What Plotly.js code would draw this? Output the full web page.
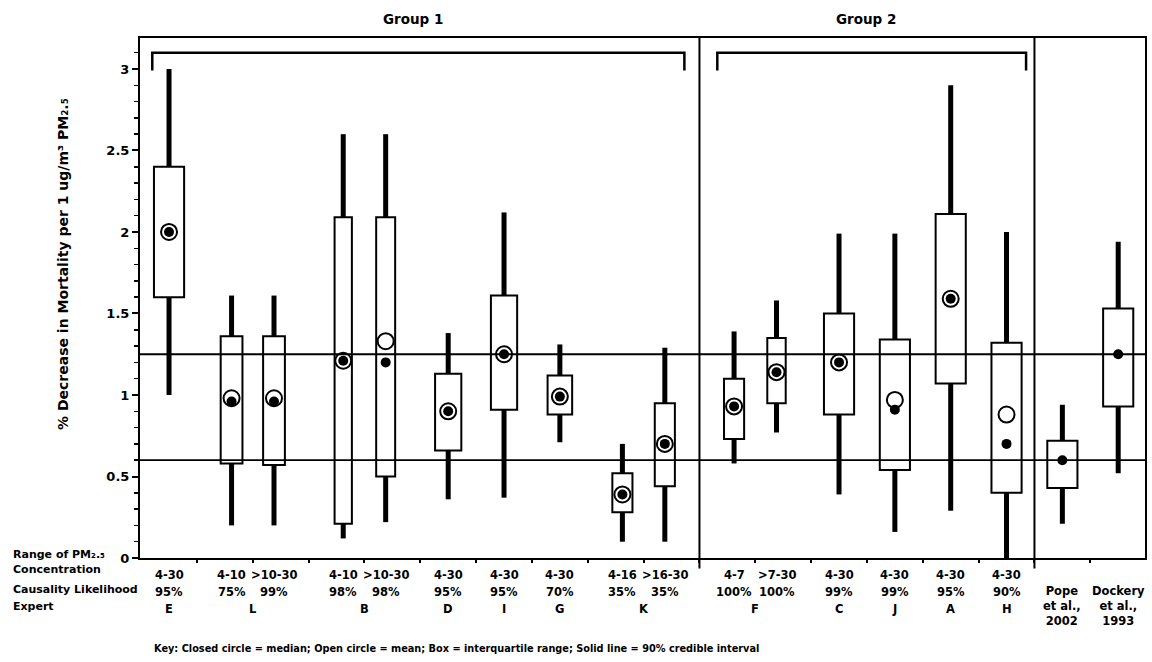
<!DOCTYPE html>
<html>
<head>
<meta charset="utf-8">
<script src="https://cdn.plot.ly/plotly-3.0.1.min.js"></script>
<style>
  html, body { margin: 0; padding: 0; background: #fff; }
  #chart { width: 1152px; height: 662px; }
</style>
</head>
<body>
<div id="chart"></div>
<script>
// Expert judgments of the PM2.5 mortality effect, followed by two cohort studies
const experts = ['E', 'L', 'L', 'B', 'B', 'D', 'I', 'G', 'K', 'K', 'F', 'F', 'C', 'J', 'A', 'H',
                 'Pope<br>et al.,<br>2002', 'Dockery<br>et al.,<br>1993'];
const concentration = ['4-30', '4-10', '>10-30', '4-10', '>10-30', '4-30', '4-30', '4-30', '4-16', '>16-30',
                       '4-7', '>7-30', '4-30', '4-30', '4-30', '4-30', '', ''];
const likelihood = ['95%', '75%', '99%', '98%', '98%', '95%', '95%', '70%', '35%', '35%',
                    '100%', '100%', '99%', '99%', '95%', '90%', '', ''];
const groupOf = [1, 1, 1, 1, 1, 1, 1, 1, 1, 1, 2, 2, 2, 2, 2, 2, 0, 0];
const groupNames = { 1: 'Group 1', 2: 'Group 2' };

// % decrease in mortality per 1 ug/m3 PM2.5
const lower90 = [1.00, 0.20, 0.20, 0.12, 0.22, 0.36, 0.37, 0.71, 0.10, 0.10, 0.58, 0.77, 0.39, 0.16, 0.29, 0.00, 0.21, 0.52];
const q1      = [1.60, 0.58, 0.57, 0.21, 0.50, 0.66, 0.91, 0.88, 0.28, 0.44, 0.73, 0.95, 0.88, 0.54, 1.07, 0.40, 0.43, 0.93];
const median  = [2.00, 0.96, 0.96, 1.21, 1.20, 0.90, 1.25, 0.99, 0.39, 0.70, 0.93, 1.14, 1.20, 0.91, 1.59, 0.70, 0.60, 1.25];
const mean    = [2.00, 0.98, 0.98, 1.21, 1.33, 0.90, 1.25, 0.99, 0.39, 0.70, 0.93, 1.14, 1.20, 0.97, 1.59, 0.88, null, null];
const q3      = [2.40, 1.36, 1.36, 2.09, 2.09, 1.13, 1.61, 1.12, 0.52, 0.95, 1.10, 1.35, 1.50, 1.34, 2.11, 1.32, 0.72, 1.53];
const upper90 = [3.00, 1.61, 1.61, 2.60, 2.60, 1.38, 2.12, 1.31, 0.70, 1.29, 1.39, 1.58, 1.99, 1.99, 2.90, 2.00, 0.94, 1.94];

// styling
const FONT = 'DejaVu Sans';
const INK = '#000';
const boxWidth = [0.54, 0.39, 0.39, 0.31, 0.34, 0.47, 0.47, 0.44, 0.36, 0.36, 0.36, 0.33, 0.54, 0.54, 0.54, 0.54, 0.54, 0.54];
const pairShift = 0.12;   // paired ranges of one expert sit a little closer together

const n = experts.length;
const pos = experts.map((e, i) => {
  const prevSame = i > 0 && experts[i - 1] === e;
  const nextSame = i < n - 1 && experts[i + 1] === e;
  return i - (prevSame ? pairShift : 0) + (nextSame ? pairShift : 0);
});

// whiskers: 90% credible interval, drawn outside the box
const wx = [], wy = [];
for (let i = 0; i < n; i++) {
  wx.push(pos[i], pos[i], null, pos[i], pos[i], null);
  wy.push(lower90[i], q1[i], null, q3[i], upper90[i], null);
}

const traces = [
  {
    type: 'bar', x: pos, base: q1, y: q3.map((v, i) => v - q1[i]), width: boxWidth,
    marker: { color: 'rgba(0,0,0,0)', line: { color: INK, width: 2 } },
    hoverinfo: 'skip'
  },
  {
    type: 'scatter', mode: 'lines', x: wx, y: wy, connectgaps: false,
    line: { color: INK, width: 5 }, hoverinfo: 'skip'
  },
  {
    type: 'scatter', mode: 'markers', x: pos, y: mean,
    marker: { symbol: 'circle-open', size: 16, color: INK, line: { width: 2, color: INK } },
    hoverinfo: 'skip'
  },
  {
    type: 'scatter', mode: 'markers', x: pos, y: median,
    marker: { symbol: 'circle', size: 10, color: INK },
    hoverinfo: 'skip'
  }
];

// geometry helpers in paper space
const M = { l: 140, r: 7, t: 38, b: 104 };
const W = 1152, H = 662;
const plotW = W - M.l - M.r, plotH = H - M.t - M.b;
const py = px => (H - M.b - px) / plotH;       // pixel row -> paper y
const pxx = px => (px - M.l) / plotW;         // pixel column -> paper x

const shapes = [];
const annotations = [];

// reference levels at the two cohort-study medians
[median[n - 2], median[n - 1]].forEach(v => shapes.push({
  type: 'line', xref: 'paper', yref: 'y', x0: 0, x1: 1, y0: v, y1: v,
  line: { color: INK, width: 1.8 }, layer: 'below'
}));

// separators between groups, and group brackets
for (let i = 1; i < n; i++) {
  if (groupOf[i] !== groupOf[i - 1]) {
    shapes.push({
      type: 'line', xref: 'x', yref: 'paper', x0: i - 0.5, x1: i - 0.5, y0: -0.02, y1: 1,
      line: { color: INK, width: 2 }
    });
  }
}
Object.keys(groupNames).forEach(g => {
  const idx = groupOf.map((v, i) => v === +g ? i : -1).filter(i => i >= 0);
  const a = pos[idx[0]] - 0.3, b = pos[idx[idx.length - 1]] + 0.35;
  shapes.push({
    type: 'path', xref: 'x', yref: 'y',
    path: `M ${a} 2.99 L ${a} 3.10 L ${b} 3.10 L ${b} 2.99`,
    line: { color: INK, width: 2.5 }
  });
  annotations.push({
    xref: 'x', yref: 'paper', x: (a + b) / 2 - 0.1, y: py(19), yanchor: 'middle', text: groupNames[g],
    showarrow: false, font: { family: FONT, size: 13.5, weight: 'bold', color: INK }
  });
});

// row headings under the axis
const rowFont = { family: FONT, size: 11, weight: 'bold', color: INK };
[['Range of PM₂.₅', 554], ['Concentration', 569], ['Causality Likelihood', 589], ['Expert', 606]]
  .forEach(([t, y]) => annotations.push({
    xref: 'paper', yref: 'paper', x: pxx(11), y: py(y), xanchor: 'left', yanchor: 'middle',
    text: t, showarrow: false, font: rowFont
  }));

// per-box labels
const colFont = { family: FONT, size: 11.5, weight: 'bold', color: INK };
for (let i = 0; i < n; i++) {
  if (concentration[i]) {
    annotations.push({ xref: 'x', yref: 'paper', x: pos[i], y: py(575), text: concentration[i],
      showarrow: false, font: colFont, yanchor: 'middle' });
    annotations.push({ xref: 'x', yref: 'paper', x: pos[i], y: py(592), text: likelihood[i],
      showarrow: false, font: colFont, yanchor: 'middle' });
  }
}
// expert names centred under their boxes
for (let i = 0; i < n; ) {
  let j = i;
  while (j + 1 < n && experts[j + 1] === experts[i]) j++;
  const xc = (pos[i] + pos[j]) / 2;
  if (concentration[i]) {
    annotations.push({ xref: 'x', yref: 'paper', x: xc, y: py(609), text: experts[i],
      showarrow: false, font: colFont, yanchor: 'middle' });
  } else {
    annotations.push({ xref: 'x', yref: 'paper', x: xc, y: py(582), text: experts[i],
      showarrow: false, font: colFont, yanchor: 'top' });
  }
  i = j + 1;
}

// vertical title
annotations.push({
  xref: 'paper', yref: 'paper', x: pxx(53), y: py(264), textangle: -90,
  text: '% Decrease in Mortality per 1 ug/m³ PM₂.₅',
  showarrow: false, font: { family: FONT, size: 14, weight: 'bold', color: INK }
});

// key
annotations.push({
  xref: 'paper', yref: 'paper', x: pxx(152), y: py(648), xanchor: 'left', yanchor: 'middle',
  text: 'Key: Closed circle = median; Open circle = mean; Box = interquartile range; Solid line = 90% credible interval',
  showarrow: false, font: { family: FONT, size: 9.75, weight: 'bold', color: INK }
});

const boundaries = [];
for (let i = 0; i < n - 1; i++) boundaries.push(i + 0.5);

const yRange = [0, 3.19];
const layout = {
  width: W, height: H, margin: M,
  paper_bgcolor: '#fff', plot_bgcolor: '#fff',
  showlegend: false, bargap: 0,
  font: { family: FONT, color: INK },
  xaxis: {
    range: [-0.52, 17.48], showgrid: false, zeroline: false,
    showline: true, mirror: true, linewidth: 2, linecolor: INK,
    tickvals: boundaries, showticklabels: false,
    ticks: 'outside', ticklen: 3, tickwidth: 2, tickcolor: INK
  },
  yaxis: {
    range: yRange, showgrid: false, zeroline: false,
    showline: true, mirror: true, linewidth: 2, linecolor: INK,
    tick0: 0, dtick: 0.5, ticks: 'outside', ticklen: 6, tickwidth: 2, tickcolor: INK,
    minor: { dtick: 0.1, ticks: 'outside', ticklen: 4, tickwidth: 1.5, tickcolor: INK },
    tickfont: { family: FONT, size: 13, weight: 'bold', color: INK }
  },
  yaxis2: {
    range: yRange, overlaying: 'y', side: 'left', showgrid: false, zeroline: false,
    showline: false, showticklabels: false,
    tick0: 0, dtick: 0.5, ticks: 'inside', ticklen: 5, tickwidth: 2, tickcolor: INK,
    minor: { dtick: 0.1, ticks: 'inside', ticklen: 4, tickwidth: 1.5, tickcolor: INK }
  },
  shapes: shapes,
  annotations: annotations
};

Plotly.newPlot('chart', traces, layout, { staticPlot: true, displayModeBar: false });
</script>
</body>
</html>
